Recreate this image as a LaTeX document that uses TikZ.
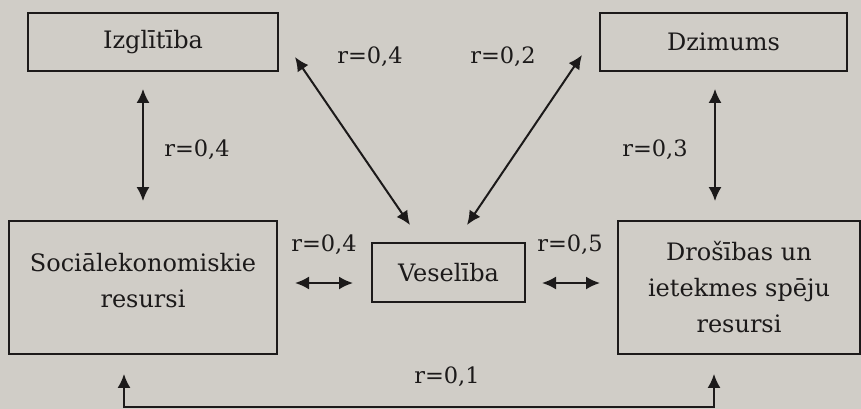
\documentclass[tikz,border=0pt]{standalone}
\usepackage{fontspec}
\setmainfont{DejaVu Serif}
\usetikzlibrary{arrows.meta}
\definecolor{bg}{RGB}{208,205,199}
\definecolor{ink}{RGB}{28,26,26}
\begin{document}
\begin{tikzpicture}[x=1pt,y=-1pt,
  box/.style={draw=ink, line width=1.8pt, inner sep=0pt, align=center, text=ink,
     font=\fontsize{24}{36}\selectfont},
  lbl/.style={text=ink, inner sep=0pt, font=\fontsize{22.5}{26}\selectfont},
  arr/.style={draw=ink, line width=2pt, {Latex[length=14pt,width=13pt]}-{Latex[length=14pt,width=13pt]}}]
\fill[bg] (0,0) rectangle (861,409);
\useasboundingbox (0,0) rectangle (861,409);
% boxes
\node[box, minimum width=250pt, minimum height=58pt] (izg) at (153,42) {Izglītība};
\node[box, minimum width=247pt, minimum height=58pt] (dzi) at (723.5,42) {Dzimums};
\node[box, minimum width=268pt, minimum height=133pt, text depth=14pt] (soc) at (143,287.5) {Sociālekonomiskie\\resursi};
\node[box, minimum width=242pt, minimum height=133pt] (dro) at (739,287.5) {Drošības un\\ietekmes spēju\\resursi};
\node[box, minimum width=153pt, minimum height=59pt] (ves) at (448.5,272.5) {Veselība};
% helper coordinates
\coordinate (xl) at (143,0);
\coordinate (xr) at (715,0);
\coordinate (bl) at (124,0);
\coordinate (br) at (714,0);
\coordinate (bot) at (0,407);
\coordinate (d1a) at (295,57);
\coordinate (d1b) at (410,225);
\coordinate (d2a) at (582,55);
\coordinate (d2b) at (467,225);
\coordinate (h1a) at (295,283);
\coordinate (h1b) at (353,283);
\coordinate (h2a) at (542,283);
\coordinate (h2b) at (600,283);
% connectors
\draw[arr, shorten <=17pt, shorten >=19pt] (izg.south -| xl) -- (soc.north -| xl);
\draw[arr, shorten <=17pt, shorten >=19pt] (dzi.south -| xr) -- (dro.north -| xr);
\draw[arr] (d1a) -- (d1b);
\draw[arr] (d2a) -- (d2b);
\draw[arr] (h1a) -- (h1b);
\draw[arr] (h2a) -- (h2b);
\draw[arr, shorten <=19pt, shorten >=19pt] (soc.south -| bl) -- (bl |- bot) -- (br |- bot) -- (dro.south -| br);
% labels
\node[lbl] (l1) at (197,150) {r=0,4};
\node[lbl] (l2) at (655,150) {r=0,3};
\node[lbl] (l3) at (370,57) {r=0,4};
\node[lbl] (l4) at (503,57) {r=0,2};
\node[lbl] (l5) at (324,245) {r=0,4};
\node[lbl] (l6) at (570,245) {r=0,5};
\node[lbl] (l7) at (447,377) {r=0,1};
\end{tikzpicture}
\end{document}
